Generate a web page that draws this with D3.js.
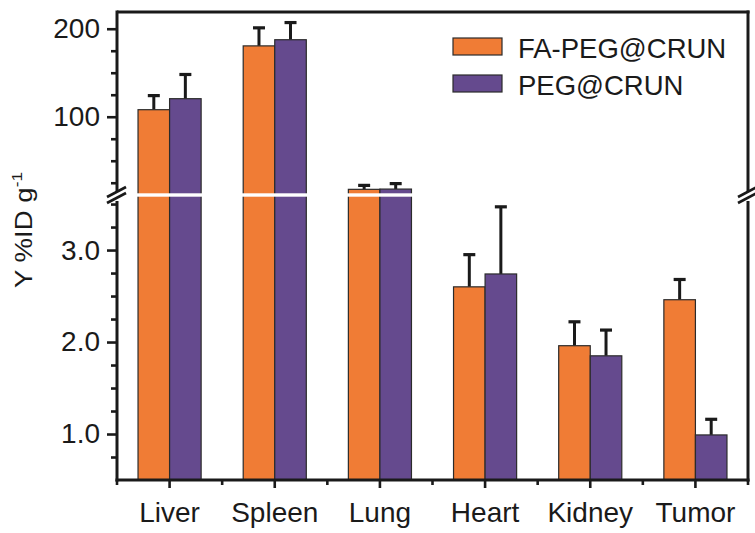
<!DOCTYPE html>
<html>
<head>
<meta charset="utf-8">
<script src="https://cdn.jsdelivr.net/npm/d3@7"></script>
<style>
  html, body { margin: 0; padding: 0; background: #fff; }
  svg { display: block; font-family: "Liberation Sans", Arial, sans-serif; }
</style>
</head>
<body>
<svg id="chart" width="755" height="533"></svg>
<script>
// Organ distribution (Y %ID per gram) for two formulations
const organs = ["Liver", "Spleen", "Lung", "Heart", "Kidney", "Tumor"];
const seriesNames = ["FA-PEG@CRUN", "PEG@CRUN"];
const faPegMean = [108, 180.5, 17.5, 2.60, 1.96, 2.46];
const faPegErr  = [16, 20.5, 4.5, 0.35, 0.26, 0.22];
const pegMean   = [120.5, 187.5, 17.8, 2.74, 1.85, 0.99];
const pegErr    = [27.5, 19.5, 6.2, 0.73, 0.28, 0.17];
const upperMajorTicks = [100, 200];
const upperMinorTicks = [25, 50, 75, 125, 150, 175];
const lowerMajorTicks = [1.0, 2.0, 3.0];
const lowerMinorTicks = [0.75, 1.25, 1.5, 1.75, 2.25, 2.5, 2.75, 3.25, 3.5];
const colors = ["#F07C35", "#654A8E"];

const svg = d3.select("#chart");
const frame = { left: 117, right: 748, top: 12, bottom: 480 };
const breakTop = 193.3, breakBottom = 196.7;
const lowerMax = 3.58;

// Broken y axis: two linear segments
const yLower = d3.scaleLinear().domain([0.5, lowerMax]).range([frame.bottom, breakBottom]);
const yUpper = d3.scaleLinear().domain([13, 219]).range([breakTop, frame.top]);
const yPos = v => (v > lowerMax ? yUpper(v) : yLower(v));

const x = d3.scaleBand().domain(organs).range([frame.left, frame.right]).padding(0);
const xSub = d3.scaleBand().domain(seriesNames).range([0.2 * x.bandwidth(), 0.8 * x.bandwidth()]);

const rows = organs.map((o, i) => ({
  organ: o,
  values: [
    { name: seriesNames[0], mean: faPegMean[i], err: faPegErr[i], color: colors[0] },
    { name: seriesNames[1], mean: pegMean[i], err: pegErr[i], color: colors[1] }
  ]
}));

const ink = "#1a1a1a";
const fontSize = 28;

// Bars
const groups = svg.append("g").selectAll("g").data(rows).join("g")
  .attr("transform", d => `translate(${x(d.organ)},0)`);

// Error bars (upper half only)
groups.selectAll("g.err").data(d => d.values).join("g").attr("class", "err")
  .each(function (d) {
    const cx = xSub(d.name) + xSub.bandwidth() / 2;
    const g = d3.select(this);
    g.append("line").attr("x1", cx).attr("x2", cx)
      .attr("y1", yPos(d.mean)).attr("y2", yPos(d.mean + d.err))
      .attr("stroke", ink).attr("stroke-width", 3);
    g.append("line").attr("x1", cx - 6).attr("x2", cx + 6)
      .attr("y1", yPos(d.mean + d.err)).attr("y2", yPos(d.mean + d.err))
      .attr("stroke", ink).attr("stroke-width", 3.2);
  });

groups.selectAll("rect").data(d => d.values).join("rect")
  .attr("x", d => xSub(d.name))
  .attr("width", xSub.bandwidth())
  .attr("y", d => yPos(d.mean))
  .attr("height", d => frame.bottom - yPos(d.mean))
  .attr("fill", d => d.color)
  .attr("stroke", "#2b2b2b")
  .attr("stroke-width", 1.2);

// White gap across the axis break
svg.append("rect")
  .attr("x", frame.left + 2).attr("width", frame.right - frame.left - 4)
  .attr("y", breakTop).attr("height", breakBottom - breakTop)
  .attr("fill", "#fff");

// Frame: top and right sides
svg.append("line").attr("x1", frame.left).attr("x2", frame.right + 1.5)
  .attr("y1", frame.top).attr("y2", frame.top).attr("stroke", ink).attr("stroke-width", 3);

function styleAxis(g) {
  g.select(".domain").remove();
  g.selectAll(".tick line").attr("stroke", ink).attr("stroke-width", 2.6);
  g.selectAll(".tick text").attr("fill", ink).attr("font-size", fontSize)
    .attr("font-family", "'Liberation Sans', Arial, sans-serif");
}

// Left axis segments
const leftUpper = svg.append("g").attr("transform", `translate(${frame.left},0)`)
  .call(d3.axisLeft(yUpper).tickValues(upperMajorTicks).tickSize(10).tickPadding(7).tickFormat(d3.format("d")));
styleAxis(leftUpper);
const leftUpperMinor = svg.append("g").attr("transform", `translate(${frame.left},0)`)
  .call(d3.axisLeft(yUpper).tickValues(upperMinorTicks).tickSize(6).tickFormat(""));
styleAxis(leftUpperMinor);

const leftLower = svg.append("g").attr("transform", `translate(${frame.left},0)`)
  .call(d3.axisLeft(yLower).tickValues(lowerMajorTicks).tickSize(10).tickPadding(7).tickFormat(d3.format(".1f")));
styleAxis(leftLower);
const leftLowerMinor = svg.append("g").attr("transform", `translate(${frame.left},0)`)
  .call(d3.axisLeft(yLower).tickValues(lowerMinorTicks).tickSize(6).tickFormat(""));
styleAxis(leftLowerMinor);

// Axis lines with a break
const gapA = 192, gapB = 201;
[frame.left, frame.right].forEach(ax => {
  svg.append("line").attr("x1", ax).attr("x2", ax).attr("y1", frame.top - 1.5).attr("y2", gapA)
    .attr("stroke", ink).attr("stroke-width", 3);
  svg.append("line").attr("x1", ax).attr("x2", ax).attr("y1", gapB).attr("y2", frame.bottom + 1.5)
    .attr("stroke", ink).attr("stroke-width", 3);
  [0, 6].forEach(off => {
    svg.append("line")
      .attr("x1", ax - 10).attr("y1", 197 + off)
      .attr("x2", ax + 9).attr("y2", 187 + off)
      .attr("stroke", ink).attr("stroke-width", 2.6);
  });
});

// Bottom axis
const bottomMajor = svg.append("g").attr("transform", `translate(0,${frame.bottom})`)
  .call(d3.axisBottom(x).tickSize(8).tickPadding(14));
bottomMajor.select(".domain").remove();
bottomMajor.selectAll(".tick line").attr("stroke", ink).attr("stroke-width", 2.6);
bottomMajor.selectAll(".tick text").attr("fill", ink).attr("font-size", fontSize)
  .attr("font-family", "'Liberation Sans', Arial, sans-serif");

const minorX = d3.range(organs.length + 1).map(i => frame.left + i * x.step());
svg.append("g").selectAll("line").data(minorX).join("line")
  .attr("x1", d => d).attr("x2", d => d)
  .attr("y1", frame.bottom).attr("y2", frame.bottom + 5)
  .attr("stroke", ink).attr("stroke-width", 2.6);
svg.append("line").attr("x1", frame.left - 1.5).attr("x2", frame.right + 1.5)
  .attr("y1", frame.bottom).attr("y2", frame.bottom)
  .attr("stroke", ink).attr("stroke-width", 3);

// Y axis title
const yTitle = svg.append("text")
  .attr("transform", "translate(32,230) rotate(-90)")
  .attr("text-anchor", "middle")
  .attr("font-size", 24)
  .attr("fill", ink)
  .attr("textLength", 116)
  .attr("lengthAdjust", "spacingAndGlyphs");
yTitle.append("tspan").text("Y %ID g");
yTitle.append("tspan").attr("font-size", 15).attr("dy", -10).text("-1");

// Legend
const legend = svg.append("g").selectAll("g").data(seriesNames).join("g")
  .attr("transform", (d, i) => `translate(453,${38 + i * 37})`);
legend.append("rect").attr("width", 49).attr("height", 17)
  .attr("fill", (d, i) => colors[i]).attr("stroke", "#2b2b2b").attr("stroke-width", 1.2);
legend.append("text").attr("x", 65).attr("y", 20)
  .attr("font-size", 27.5).attr("fill", ink).text(d => d);
</script>
</body>
</html>
